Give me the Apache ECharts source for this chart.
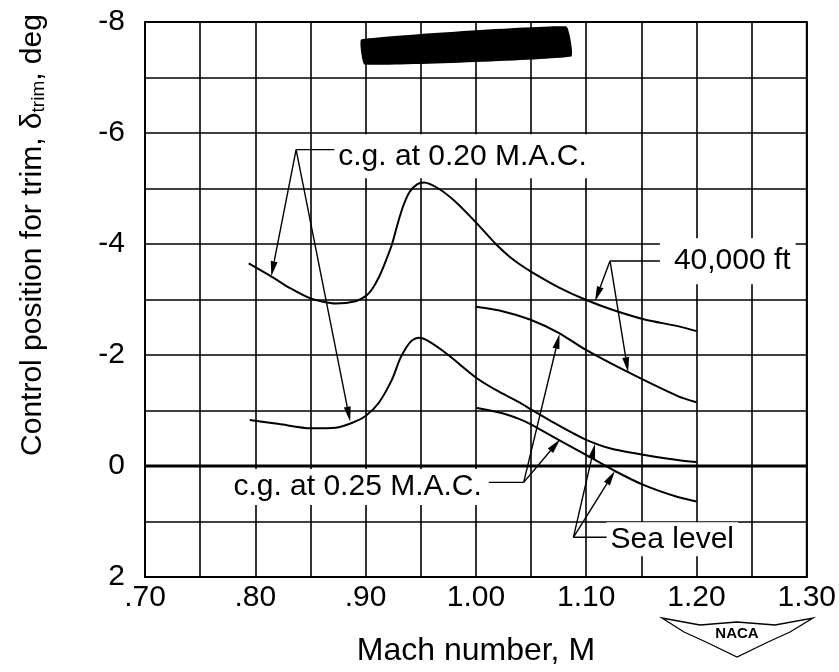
<!DOCTYPE html>
<html>
<head>
<meta charset="utf-8">
<script src="https://cdn.jsdelivr.net/npm/echarts@6/dist/echarts.min.js"></script>
<style>
  html, body { margin: 0; padding: 0; background: #fff; }
  #main { width: 839px; height: 672px; }
</style>
</head>
<body>
<div id="main"></div>
<script>
// trim position (deg) against Mach number
var cg20At40k = [
    [0.794, -3.65], [0.814, -3.42], [0.831, -3.21], [0.850, -3.02], [0.873, -2.93],
    [0.891, -2.97], [0.900, -3.06], [0.906, -3.19], [0.912, -3.40], [0.918, -3.68],
    [0.924, -4.00], [0.929, -4.36], [0.934, -4.68], [0.940, -4.94], [0.947, -5.08],
    [0.953, -5.11], [0.966, -5.00], [0.981, -4.77], [1.000, -4.39], [1.018, -4.00],
    [1.030, -3.78], [1.040, -3.63], [1.051, -3.49], [1.075, -3.22], [1.099, -3.00],
    [1.123, -2.82], [1.153, -2.64], [1.183, -2.52], [1.200, -2.43]
];
var cg20SeaLevel = [
    [0.795, -0.83], [0.822, -0.755], [0.850, -0.68], [0.873, -0.69], [0.888, -0.78],
    [0.900, -0.90], [0.912, -1.14], [0.924, -1.56], [0.931, -1.92], [0.937, -2.14],
    [0.942, -2.26], [0.948, -2.31], [0.957, -2.25], [0.975, -2.00], [1.000, -1.595],
    [1.018, -1.37], [1.039, -1.15], [1.049, -1.03], [1.075, -0.73], [1.099, -0.48],
    [1.123, -0.31], [1.153, -0.20], [1.183, -0.11], [1.200, -0.07]
];
var cg25At40k = [
    [1.000, -2.87], [1.024, -2.79], [1.049, -2.64], [1.075, -2.40], [1.099, -2.10],
    [1.138, -1.69], [1.183, -1.26], [1.200, -1.15]
];
var cg25SeaLevel = [
    [1.000, -1.05], [1.024, -0.95], [1.039, -0.85], [1.049, -0.76], [1.075, -0.47],
    [1.099, -0.21], [1.126, 0.09], [1.153, 0.35], [1.183, 0.56], [1.200, 0.64]
];

var FONT = '"Liberation Sans", Arial, sans-serif';

function curve(name, data) {
    return {
        name: name,
        type: 'line',
        data: data,
        showSymbol: false,
        smooth: 0.25,
        lineStyle: { color: '#000', width: 2 },
        z: 5
    };
}

var chart = echarts.init(document.getElementById('main'));

var series = [
    curve('c.g. 0.20 M.A.C., 40,000 ft', cg20At40k),
    curve('c.g. 0.20 M.A.C., sea level', cg20SeaLevel),
    curve('c.g. 0.25 M.A.C., 40,000 ft', cg25At40k),
    curve('c.g. 0.25 M.A.C., sea level', cg25SeaLevel)
];

chart.setOption({
    animation: false,
    backgroundColor: '#fff',
    grid: {
        left: 145, right: 30, top: 22, bottom: 94,
        show: true, borderColor: '#000', borderWidth: 2
    },
    xAxis: {
        type: 'value',
        min: 0.7, max: 1.3, interval: 0.05,
        name: 'Mach number, M',
        nameLocation: 'middle',
        nameGap: 58,
        nameTextStyle: { fontFamily: FONT, fontSize: 32, color: '#000' },
        axisLine: { lineStyle: { color: '#000', width: 2 } },
        axisTick: { show: false },
        axisLabel: {
            margin: 6,
            fontFamily: FONT, fontSize: 30, color: '#000',
            formatter: function (v) {
                var h = Math.round(v * 100);
                if (h % 10 !== 0) return '';
                return h < 100 ? '.' + h : (h / 100).toFixed(2);
            }
        },
        splitLine: { show: true, lineStyle: { color: '#000', width: 1.6 } }
    },
    yAxis: {
        type: 'value',
        inverse: true,
        min: -8, max: 2, interval: 1,
        axisLine: { lineStyle: { color: '#000', width: 2 } },
        axisTick: { show: false },
        axisLabel: {
            margin: 20,
            fontFamily: FONT, fontSize: 30, color: '#000',
            formatter: function (v) {
                var r = Math.round(v);
                return r % 2 === 0 ? String(r) : '';
            }
        },
        splitLine: { show: true, lineStyle: { color: '#000', width: 1.6 } }
    },
    series: series
});

// callouts in data coordinates: label, leader joint, arrow tips
var callouts = [
    { text: 'c.g. at 0.20 M.A.C.', at: [0.8716, -5.58], align: 'left', lead: [0.8716, -5.70],
      joint: [0.837, -5.70], tips: [[0.8145, -3.42], [0.886, -0.80]], pad: [10, 4, 8, 4] },
    { text: '40,000 ft', at: [1.1668, -3.69], align: 'left', lead: [1.1668, -3.694],
      joint: [1.1216, -3.694], tips: [[1.108, -2.97], [1.138, -1.69]], pad: [12, 5, 8, 14] },
    { text: 'c.g. at 0.25 M.A.C.', at: [1.009, 0.38], align: 'right', lead: [1.0117, 0.295],
      joint: [1.0433, 0.295], tips: [[1.0758, -2.38], [1.0764, -0.48]], pad: [0, 4, 10, 4] },
    { text: 'Sea level', at: [1.1185, 1.32], align: 'left', lead: [1.1185, 1.285],
      joint: [1.0884, 1.285], tips: [[1.108, -0.40], [1.126, 0.09]], pad: [2, 4, 6, 4] }
];
var redaction = [[0.896, -7.685], [1.082, -7.92], [1.0866, -7.38], [0.899, -7.235]];

function px(p) { return chart.convertToPixel({ gridIndex: 0 }, p); }

var g = [];
callouts.forEach(function (c) {
    var j = px(c.joint), l = px(c.lead), t = px(c.at);
    g.push({
        type: 'text', z: 100,
        style: {
            text: c.text, x: t[0], y: t[1],
            font: '30px ' + FONT, fill: '#000', lineHeight: 26,
            align: c.align, verticalAlign: 'middle',
            backgroundColor: '#fff', padding: c.pad
        }
    });
    g.push({
        type: 'polyline', z: 101,
        shape: { points: [l, j] },
        style: { stroke: '#000', lineWidth: 1.4, fill: null }
    });
    c.tips.forEach(function (tp) {
        var e = px(tp);
        var dx = e[0] - j[0], dy = e[1] - j[1];
        var len = Math.sqrt(dx * dx + dy * dy);
        var ux = dx / len, uy = dy / len;
        var bx = e[0] - ux * 15, by = e[1] - uy * 15;
        g.push({
            type: 'polyline', z: 101,
            shape: { points: [j, [bx, by]] },
            style: { stroke: '#000', lineWidth: 1.4, fill: null }
        });
        g.push({
            type: 'polygon', z: 101,
            shape: { points: [e, [bx - uy * 3.5, by + ux * 3.5], [bx + uy * 3.5, by - ux * 3.5]] },
            style: { fill: '#000' }
        });
    });
});

// heavier zero line, kept above the label backgrounds
var z0 = px([0.7, 0]), z1 = px([1.3, 0]);
g.push({
    type: 'line', z: 103,
    shape: { x1: z0[0], y1: z0[1], x2: z1[0], y2: z1[1] },
    style: { stroke: '#000', lineWidth: 3 }
});

// blacked-out block at top of the original figure
g.push({
    type: 'polygon', z: 102,
    shape: { points: redaction.map(px), smooth: 0.1 },
    style: { fill: '#000' }
});

// ordinate title with subscript
g.push({
    type: 'text', z: 100,
    x: 33, y: 235, rotation: Math.PI / 2,
    style: {
        text: 'Control position for trim, δ{sub|trim}, deg',
        font: '30px ' + FONT, fill: '#000',
        align: 'center', verticalAlign: 'middle',
        rich: { sub: { fontFamily: FONT, fontSize: 19, verticalAlign: 'bottom', padding: [12, 0, 0, 0] } }
    }
});

// NACA badge
g.push({
    type: 'polygon', z: 100,
    shape: { points: [[662, 618], [700, 625], [737, 622], [775, 625], [813, 618],
                      [790, 632], [768, 642], [737, 657], [706, 642], [684, 632]] },
    style: { fill: '#fff', stroke: '#000', lineWidth: 1.3 }
});
g.push({
    type: 'text', z: 101,
    style: { text: 'NACA', x: 737, y: 634, font: 'bold 15px ' + FONT, fill: '#000',
             align: 'center', verticalAlign: 'middle' }
});

chart.setOption({ graphic: g });
</script>
</body>
</html>
